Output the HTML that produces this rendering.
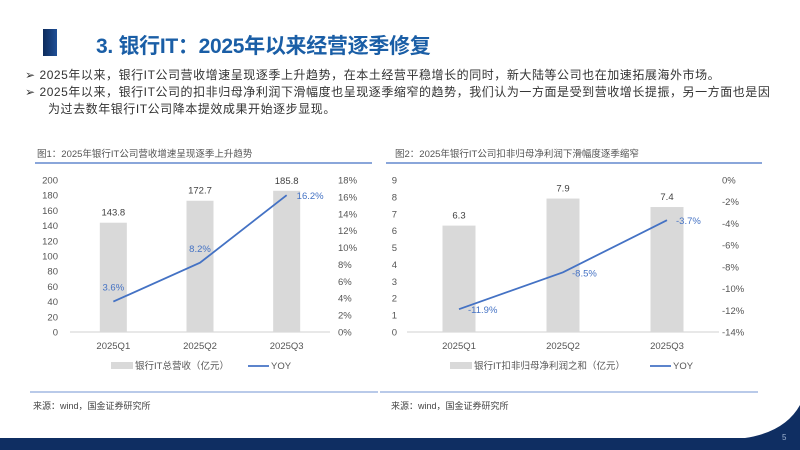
<!DOCTYPE html>
<html><head><meta charset="utf-8"><style>
body{margin:0;width:800px;height:450px;overflow:hidden;background:#fff;position:relative;font-family:"Liberation Sans","Noto Sans CJK SC",sans-serif;color:#333}
.abs{position:absolute}
.bl{white-space:nowrap;font-size:12px;line-height:17px;letter-spacing:0.55px}
</style></head><body>
<div class="abs" style="left:43px;top:29px;width:14px;height:27px;background:linear-gradient(90deg,#0d2b5c,#1f4f96)"></div>
<div class="abs" style="left:96px;top:30px;font-size:21px;font-weight:bold;color:#1a5ea6;letter-spacing:-0.3px">3. 银行IT：2025年以来经营逐季修复</div>
<div class="abs bl" style="left:25px;top:67px">➢ 2025年以来，银行IT公司营收增速呈现逐季上升趋势，在本土经营平稳增长的同时，新大陆等公司也在加速拓展海外市场。</div>
<div class="abs bl" style="left:25px;top:84px">➢ 2025年以来，银行IT公司的扣非归母净利润下滑幅度也呈现逐季缩窄的趋势，我们认为一方面是受到营收增长提振，另一方面也是因<br><span style="padding-left:23px">为过去数年银行IT公司降本提效成果开始逐步显现。</span></div>
<svg class="abs" style="left:0;top:0" width="800" height="450">
<g font-family="Liberation Sans, Noto Sans CJK SC, sans-serif">
<text x="37" y="157" font-size="9.5" fill="#555">图1：2025年银行IT公司营收增速呈现逐季上升趋势</text>
<line x1="35" y1="163" x2="372" y2="163" stroke="#4472c4" stroke-width="1.2"/>
<text x="395" y="157" font-size="9.5" fill="#555">图2：2025年银行IT公司扣非归母净利润下滑幅度逐季缩窄</text>
<line x1="386" y1="163" x2="762" y2="163" stroke="#4472c4" stroke-width="1.2"/>
<line x1="30" y1="392" x2="378" y2="392" stroke="#4472c4" stroke-width="0.8"/>
<line x1="380" y1="392" x2="758" y2="392" stroke="#4472c4" stroke-width="0.8"/>
<text x="33" y="409" font-size="9" fill="#444">来源：wind，国金证券研究所</text>
<text x="391" y="409" font-size="9" fill="#444">来源：wind，国金证券研究所</text>
<g id="c1"></g><g id="c2"></g>
</g>
<path d="M0 438 L745 438 Q785 432 800 405 L800 450 L0 450 Z" fill="#0f2e62"/>
<text x="782" y="440" font-size="8" fill="#9fb3d1" font-family="Liberation Sans">5</text>
</svg>
<script>
const cats=["2025Q1","2025Q2","2025Q3"];
const rev=[143.8,172.7,185.8];
const revYoy=[3.6,8.2,16.2];
const profit=[6.3,7.9,7.4];
const profitYoy=[-11.9,-8.5,-3.7];
const leftTicks1=[0,20,40,60,80,100,120,140,160,180,200];
const rightTicks1=[0,2,4,6,8,10,12,14,16,18];
const leftTicks2=[0,1,2,3,4,5,6,7,8,9];
const rightTicks2=[-14,-12,-10,-8,-6,-4,-2,0];
const NS="http://www.w3.org/2000/svg";
function mk(p,t,a,txt){const e=document.createElementNS(NS,t);for(const k in a)e.setAttribute(k,a[k]);if(txt!=null)e.textContent=txt;p.appendChild(e);return e;}
function draw(g,o){
  const top=180,bot=332;
  const yL=v=>bot-(v-o.lmin)/(o.lmax-o.lmin)*(bot-top);
  const yR=v=>bot-(v-o.rmin)/(o.rmax-o.rmin)*(bot-top);
  const step=(o.x1-o.x0)/cats.length;
  const xc=i=>o.x0+step*(i+0.5);
  o.lt.forEach(v=>{const t=mk(g,"text",{x:o.lx,y:yL(v)+3.5,"font-size":9.5,fill:"#555","text-anchor":"end"},v);
    
    });
  o.rt.forEach(v=>{const t=mk(g,"text",{x:o.rx,y:yR(v)+3.5,"font-size":9.5,fill:"#555"},v+"%");
    
    });
  mk(g,"line",{x1:o.x0,y1:bot,x2:o.x1,y2:bot,stroke:"#d0d0d0"});
  o.bars.forEach((v,i)=>{const r=mk(g,"rect",{x:xc(i)-o.bw/2,y:yL(v),width:o.bw,height:bot-yL(v),fill:"#d9d9d9"});
    
    
    const t=mk(g,"text",{x:xc(i),y:yL(v)-7,"font-size":9.5,fill:"#404040","text-anchor":"middle"},v.toFixed(1));
    
    
    const c=mk(g,"text",{x:xc(i),y:349,"font-size":9.5,fill:"#555","text-anchor":"middle"},cats[i]);
    
    });
  const pts=o.line.map((v,i)=>xc(i)+","+yR(v)).join(" ");
  const pl=mk(g,"polyline",{points:pts,fill:"none",stroke:"#4472c4","stroke-width":1.8});
  
  
  o.line.forEach((v,i)=>{const t=mk(g,"text",{x:xc(i)+o.ldx[i],y:yR(v)+o.ldy[i],"font-size":9.5,fill:"#4472c4","text-anchor":o.la[i]},v.toFixed(1)+"%");
    
    });
  const lr=mk(g,"rect",{x:o.lg[0],y:362,width:22,height:7,fill:"#d9d9d9"});
  
  
  const lt=mk(g,"text",{x:o.lg[0]+24,y:369,"font-size":9.5,fill:"#555"},o.barName);
  
  
  const ll=mk(g,"line",{x1:o.lg[1],y1:366,x2:o.lg[1]+21,y2:366,stroke:"#4472c4","stroke-width":1.8});
  
  
  const lt2=mk(g,"text",{x:o.lg[1]+23,y:369,"font-size":9.5,fill:"#555"},"YOY");
  
  
}
draw(document.getElementById("c1"),{x0:70,x1:330,lmin:0,lmax:200,rmin:0,rmax:18,lt:leftTicks1,rt:rightTicks1,lx:58,rx:338,bw:27,bars:rev,line:revYoy,
 ldx:[0,0,10],ldy:[-11,-11,4],la:["middle","middle","start"],lg:[111,248],barName:"银行IT总营收（亿元）"});
draw(document.getElementById("c2"),{x0:407,x1:719,lmin:0,lmax:9,rmin:-14,rmax:0,lt:leftTicks2,rt:rightTicks2,lx:397,rx:722,bw:33,bars:profit,line:profitYoy,
 ldx:[9,9,9],ldy:[4,4,4],la:["start","start","start"],lg:[450,650],barName:"银行IT扣非归母净利润之和（亿元）"});
</script>
</body></html>
